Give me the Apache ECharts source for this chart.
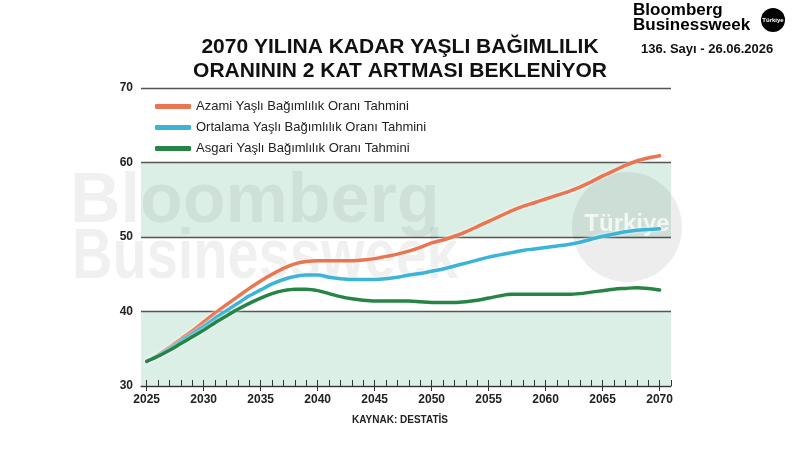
<!DOCTYPE html>
<html lang="tr">
<head>
    <meta charset="utf-8">
    <title>Yaşlı Bağımlılık Oranı</title>
    <script type="text/javascript" src="https://cdn.jsdelivr.net/npm/echarts@6.0.0/dist/echarts.min.js"></script>
    <style>
        html, body { margin: 0; padding: 0; background: #fff; }
        #main { width: 800px; height: 450px; }
    </style>
</head>

<body>
    <div id="main"></div>

    <script type="text/javascript">
    // yıllar ve tahmin serileri
    var years = [];
    for (var y = 2025; y <= 2070; y++) years.push(y);

    var azami = [33.3, 34.2, 35.2, 36.3, 37.4, 38.6, 39.8, 40.9, 42.0, 43.1,
                 44.1, 45.0, 45.8, 46.4, 46.7, 46.8, 46.8, 46.8, 46.8, 46.9,
                 47.1, 47.4, 47.7, 48.1, 48.6, 49.2, 49.6, 50.1, 50.7, 51.4,
                 52.1, 52.8, 53.5, 54.1, 54.6, 55.1, 55.6, 56.1, 56.7, 57.4,
                 58.2, 58.9, 59.6, 60.2, 60.6, 60.9];
    var ortalama = [33.3, 34.1, 35.0, 36.0, 37.0, 38.0, 39.1, 40.1, 41.1, 42.1,
                    42.9, 43.7, 44.3, 44.7, 44.9, 44.9, 44.6, 44.4, 44.3, 44.3,
                    44.3, 44.4, 44.6, 44.9, 45.1, 45.4, 45.7, 46.1, 46.5, 46.9,
                    47.3, 47.6, 47.9, 48.2, 48.4, 48.6, 48.8, 49.0, 49.3, 49.7,
                    50.1, 50.4, 50.7, 50.9, 51.0, 51.1];
    var asgari = [33.3, 34.0, 34.8, 35.7, 36.6, 37.5, 38.5, 39.4, 40.3, 41.1,
                  41.8, 42.4, 42.8, 43.0, 43.0, 42.8, 42.4, 42.0, 41.7, 41.5,
                  41.4, 41.4, 41.4, 41.4, 41.3, 41.2, 41.2, 41.2, 41.3, 41.5,
                  41.8, 42.1, 42.3, 42.3, 42.3, 42.3, 42.3, 42.3, 42.4, 42.6,
                  42.8, 43.0, 43.1, 43.2, 43.1, 42.9];

    var seriesNames = ['Azami Yaşlı Bağımlılık Oranı Tahmini',
                       'Ortalama Yaşlı Bağımlılık Oranı Tahmini',
                       'Asgari Yaşlı Bağımlılık Oranı Tahmini'];
    var majorYears = [2025, 2030, 2035, 2040, 2045, 2050, 2055, 2060, 2065, 2070];

    function pairs(vals) {
        return vals.map(function (v, i) { return [years[i], v]; });
    }

    var font = '"Liberation Sans", Arial, sans-serif';
    var myChart = echarts.init(document.getElementById('main'));

    function lineSeries(name, data, color) {
        return {
            name: name,
            type: 'line',
            data: pairs(data),
            smooth: 0.3,
            symbol: 'none',
            z: 5,
            lineStyle: { color: color, width: 3.5, cap: 'round',
                         shadowColor: 'rgba(255,255,255,0.9)', shadowBlur: 3 },
            itemStyle: { color: color }
        };
    }

    myChart.setOption({
        animation: false,
        textStyle: { fontFamily: font },
        title: {
            text: '2070 YILINA KADAR YAŞLI BAĞIMLILIK\nORANININ 2 KAT ARTMASI BEKLENİYOR',
            left: 'center',
            top: 30,
            textStyle: { fontSize: 21, fontWeight: 'bold', color: '#111', lineHeight: 24 }
        },
        legend: {
            orient: 'vertical',
            left: 150,
            top: 95,
            itemWidth: 36,
            itemHeight: 5,
            itemGap: 8,
            icon: 'roundRect',
            data: seriesNames,
            textStyle: { fontSize: 13, color: '#222' }
        },
        grid: { left: 141, right: 129, top: 88, bottom: 64 },
        xAxis: [{
            type: 'value',
            min: 2024.5,
            max: 2071,
            splitLine: { show: false },
            axisLine: { lineStyle: { color: '#333', width: 1 } },
            axisTick: { show: true, customValues: majorYears, length: 5,
                        lineStyle: { color: '#333', width: 1 } },
            axisLabel: { customValues: majorYears, color: '#222', fontSize: 12,
                         fontWeight: 'bold', margin: 8,
                         formatter: function (v) { return String(v); } }
        }, {
            type: 'value',
            position: 'bottom',
            min: 2024.5,
            max: 2071,
            splitLine: { show: false },
            axisLine: { show: false },
            axisTick: { show: true, inside: true, length: 6, customValues: years.concat([2071]),
                        lineStyle: { color: '#333', width: 1 } },
            axisLabel: { show: false }
        }],
        yAxis: {
            type: 'value',
            min: 30,
            max: 70,
            interval: 10,
            axisLine: { show: false },
            axisTick: { show: false },
            axisLabel: { color: '#222', fontSize: 12, fontWeight: 'bold', margin: 8 },
            splitLine: { lineStyle: { color: '#555', width: 1.3 } },
            splitArea: { show: true, areaStyle: { color: ['#dcefe6', '#ffffff'] } }
        },
        graphic: [
            // arka plan filigranı
            { type: 'text', x: 70, y: 168, z: 1, silent: true,
              style: { text: 'Bloomberg', fontSize: 70, fontWeight: 'bold',
                       fontFamily: font, fill: 'rgba(0,0,0,0.06)' } },
            { type: 'text', x: 72, y: 224, scaleX: 0.8, z: 1, silent: true,
              style: { text: 'Businessweek', fontSize: 70, fontWeight: 'bold',
                       fontFamily: font, fill: 'rgba(0,0,0,0.06)' } },
            { type: 'circle', shape: { cx: 627, cy: 227, r: 55 }, z: 1, silent: true,
              style: { fill: 'rgba(0,0,0,0.07)' } },
            { type: 'text', x: 627, y: 224, z: 1, silent: true,
              style: { text: 'Türkiye', fontSize: 24, fontWeight: 'bold', fontFamily: font,
                       fill: 'rgba(255,255,255,0.75)', align: 'center', verticalAlign: 'middle' } },
            // logo
            { type: 'text', x: 633, y: 3, z: 10,
              style: { text: 'Bloomberg\nBusinessweek', fontSize: 17, fontWeight: 'bold',
                       lineHeight: 15, fontFamily: font, fill: '#000' } },
            { type: 'circle', shape: { cx: 773, cy: 20, r: 12 }, z: 10,
              style: { fill: '#000' } },
            { type: 'text', x: 773, y: 20, z: 11,
              style: { text: 'Türkiye', fontSize: 6, fontWeight: 'bold', fontFamily: font,
                       fill: '#fff', align: 'center', verticalAlign: 'middle' } },
            { type: 'text', x: 641, y: 43, z: 10,
              style: { text: '136. Sayı - 26.06.2026', fontSize: 13, fontWeight: 'bold',
                       fontFamily: font, fill: '#111' } },
            // kaynak
            { type: 'text', left: 'center', top: 415, z: 10,
              style: { text: 'KAYNAK: DESTATİS', fontSize: 10, fontWeight: 'bold',
                       fontFamily: font, fill: '#222' } }
        ],
        series: [
            lineSeries(seriesNames[0], azami, '#ea7550'),
            lineSeries(seriesNames[1], ortalama, '#3cb4d8'),
            lineSeries(seriesNames[2], asgari, '#268545')
        ]
    });
    </script>
</body>
</html>
